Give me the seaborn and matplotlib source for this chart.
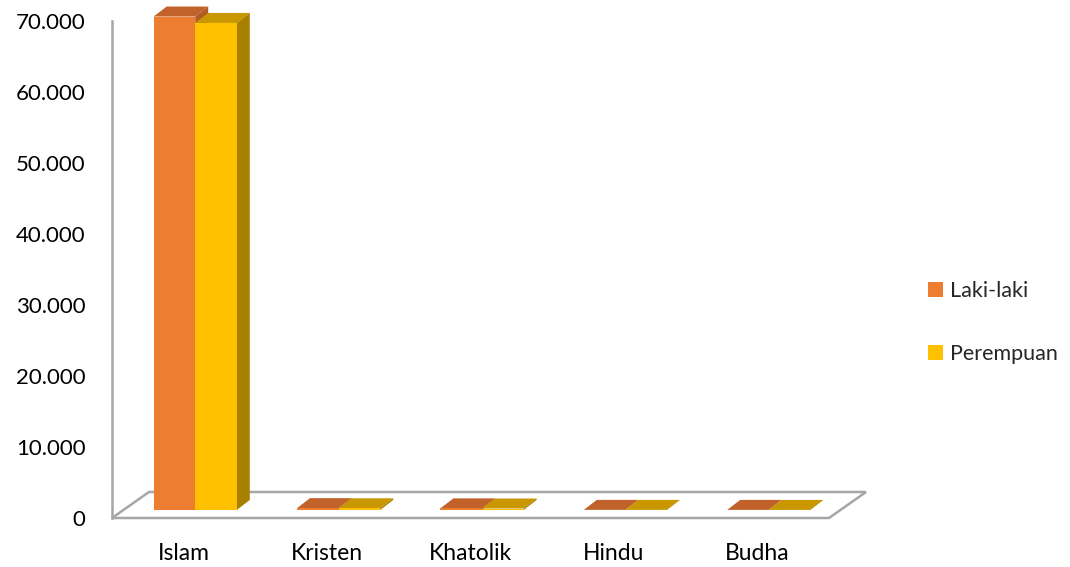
import matplotlib
matplotlib.use("Agg")
import matplotlib.pyplot as plt
import seaborn as sns
import pandas as pd
from matplotlib.patches import Polygon, Patch
from matplotlib.transforms import Affine2D, IdentityTransform

# data
agama = ["Islam", "Kristen", "Khatolik", "Hindu", "Budha"]
laki_laki = [69500, 260, 230, 20, 15]
perempuan = [68600, 240, 210, 15, 10]
seri = ["Laki-laki", "Perempuan"]
y_ticks = [0, 10000, 20000, 30000, 40000, 50000, 60000, 70000]

# colours: front, top, side
warna_depan = ["#ED7D31", "#FFC000"]
warna_atas = ["#C0622A", "#C99700"]
warna_sisi = ["#B25A24", "#A88000"]
abu = "#A6A6A6"

df = pd.DataFrame({
    "agama": agama * 2,
    "jumlah": laki_laki + perempuan,
    "jenis": [seri[0]] * len(agama) + [seri[1]] * len(agama),
})

sns.set_theme(style="white")
plt.rcParams["font.family"] = ["Lato", "DejaVu Sans"]

fig = plt.figure(figsize=(10.7, 5.67), dpi=100)
ax = fig.add_axes([112 / 1070, 49 / 567, 717 / 1070, 497 / 567])

sns.barplot(data=df, x="agama", y="jumlah", hue="jenis", palette=warna_depan,
            saturation=1, width=0.58, errorbar=None, legend=False,
            linewidth=0, ax=ax)

ax.set_xlim(-0.5, len(agama) - 0.5)
ax.set_ylim(0, 70000)
ax.set_yticks(y_ticks)
ax.set_yticklabels([f"{v:,}".replace(",", ".") for v in y_ticks])
ax.tick_params(axis="y", length=0, pad=19, labelsize=16, colors="black")
ax.tick_params(axis="x", length=0, pad=18, labelsize=16.5, colors="black")
ax.set_xlabel("")
ax.set_ylabel("")
for s in ["top", "right", "bottom"]:
    ax.spines[s].set_visible(False)
ax.spines["left"].set_color(abu)
ax.spines["left"].set_linewidth(1.8)
ax.spines["left"].set_zorder(0.5)

# pseudo 3D: offsets in pixels
geser = (11.5, 8.0)    # bars sit inside the floor
dalam = (13.0, 10.0)   # bar depth
lantai = (37.0, 26.0)  # floor depth
to_px = ax.transData.transform
ident = IdentityTransform()

# floor
a = to_px((-0.5, 0))
b = to_px((len(agama) - 0.5, 0))
ax.add_patch(Polygon([a, b, (b[0] + lantai[0], b[1] + lantai[1]),
                      (a[0] + lantai[0], a[1] + lantai[1])],
                     closed=True, facecolor="white", edgecolor=abu,
                     linewidth=1.8, transform=ident, clip_on=False, zorder=1))

n = len(agama)
bars = list(ax.patches)[:2 * n]
for i in range(n):
    for h in range(2):
        p = bars[h * n + i]
        z = 2 + 3 * (2 * i + h)
        x0, w, tinggi = p.get_x(), p.get_width(), p.get_height()
        p.set_transform(ax.transData + Affine2D().translate(*geser))
        p.set_clip_on(False)
        p.set_zorder(z + 2)
        kiri_b = to_px((x0, 0)) + geser
        kanan_a = to_px((x0 + w, tinggi)) + geser
        kiri_a = to_px((x0, tinggi)) + geser
        kanan_b = to_px((x0 + w, 0)) + geser
        dx, dy = dalam
        atas = [kiri_a, kanan_a, (kanan_a[0] + dx, kanan_a[1] + dy),
                (kiri_a[0] + dx, kiri_a[1] + dy)]
        sisi = [kanan_b, kanan_a, (kanan_a[0] + dx, kanan_a[1] + dy),
                (kanan_b[0] + dx, kanan_b[1] + dy)]
        ax.add_patch(Polygon(atas, closed=True, facecolor=warna_atas[h],
                             edgecolor="none", transform=ident,
                             clip_on=False, zorder=z))
        ax.add_patch(Polygon(sisi, closed=True, facecolor=warna_sisi[h],
                             edgecolor="none", transform=ident,
                             clip_on=False, zorder=z + 1))

handles = [Patch(facecolor=c, edgecolor="none") for c in warna_depan]
fig.legend(handles, seri, loc="center left", bbox_to_anchor=(928 / 1070, 0.431),
           frameon=False, fontsize=15.5, handlelength=0.68, handleheight=0.68,
           handletextpad=0.35, labelspacing=2.0, borderpad=0, borderaxespad=0)

fig.savefig("out.png", dpi=100, facecolor="white")
